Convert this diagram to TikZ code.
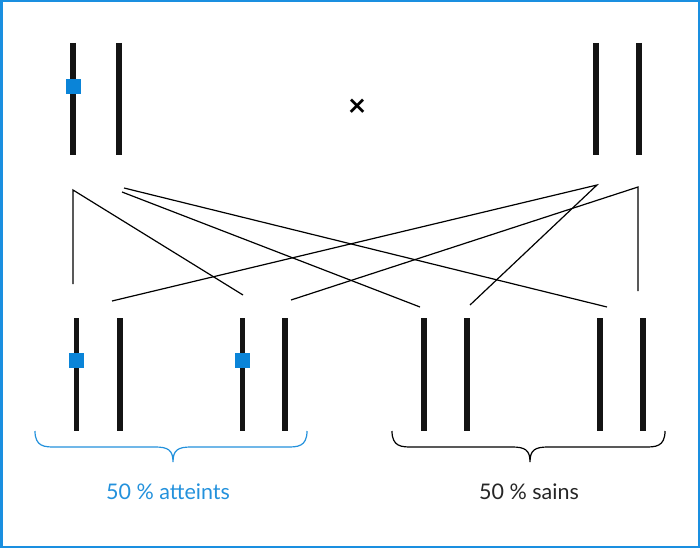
\documentclass[tikz,border=0pt]{standalone}
\usepackage{fontspec}
\setmainfont{Lato}
\definecolor{sqblue}{HTML}{0A84D8}
\definecolor{txtblue}{HTML}{2391DC}
\definecolor{frameblue}{HTML}{1A8FE0}
\definecolor{chromo}{HTML}{141414}
\begin{document}
\begin{tikzpicture}[x=1pt,y=-1pt,
  chrom/.style={draw=chromo,line width=5.5pt},
  locus/.style={fill=sqblue,draw=none,minimum size=15pt,inner sep=0pt},
  link/.style={draw=black,line width=1.2pt},
  brace/.style={line width=1.2pt,rounded corners=0pt},
  label/.style={font=\fontsize{21.5}{24}\selectfont,inner sep=0pt}]
\useasboundingbox (0,0) rectangle (700,548);
\draw[frameblue,line width=2.5pt] (1.25,1.25) rectangle (698.75,546.75);
% parents
\foreach \n/\x in {pa/73,pb/119,pc/596,pd/639}{
  \coordinate (\n t) at (\x,43);
  \coordinate (\n b) at (\x,155);
  \draw[chrom] (\n t) -- (\n b);
}
\node[locus] (lp) at (73,86.5) {};
\node[font=\fontsize{31}{31}\selectfont\bfseries,inner sep=0pt] (cross) at (357,108) {×};
% children
\foreach \n/\x in {ca/76.5,cb/120,cc/242.5,cd/285,ce/424,cf/467,cg/600,ch/643}{
  \coordinate (\n t) at (\x,318);
  \coordinate (\n b) at (\x,431);
  \draw[chrom] (\n t) -- (\n b);
}
\node[locus] (l1) at (76.5,360.5) {};
\node[locus] (l2) at (242.5,360.5) {};
% link end points
\coordinate (A) at (73,190);
\coordinate (B1) at (122,192);
\coordinate (B2) at (124,188);
\coordinate (C) at (597,185);
\coordinate (D) at (638,187);
\coordinate (e1) at (73,284);
\coordinate (e2) at (112,301);
\coordinate (e3) at (243,295);
\coordinate (e4) at (291,300);
\coordinate (e5) at (420,307);
\coordinate (e6) at (470,305);
\coordinate (e7) at (607,307);
\coordinate (e8) at (638,291);
\draw[link] (e1) -- (A) -- (e3);
\draw[link] (B1) -- (e5);
\draw[link] (B2) -- (e7);
\draw[link] (e2) -- (C) -- (e6);
\draw[link] (e4) -- (D) -- (e8);
% braces
\draw[brace,txtblue] (35,431) .. controls (35,447) and (45,447) .. (55,447) -- (155,447)
  .. controls (168,447) and (173,450) .. (173,462)
  .. controls (173,450) and (178,447) .. (191,447) -- (287,447)
  .. controls (297,447) and (307,447) .. (307,431);
\draw[brace,black] (392,431) .. controls (392,447) and (402,447) .. (412,447) -- (512,447)
  .. controls (525,447) and (530,450) .. (530,462)
  .. controls (530,450) and (535,447) .. (548,447) -- (645,447)
  .. controls (655,447) and (665,447) .. (665,431);
\node[label,text=txtblue] (t1) at (168,492) {50 \% atteints};
\node[label,text=black!85] (t2) at (529,492) {50 \% sains};
\end{tikzpicture}
\end{document}
